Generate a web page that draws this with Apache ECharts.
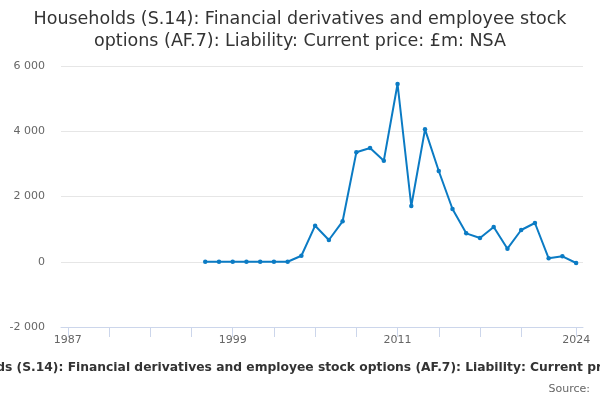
<!DOCTYPE html>
<html>
<head>
<meta charset="utf-8">
<script src="https://cdn.jsdelivr.net/npm/echarts@6/dist/echarts.min.js"></script>
<style>html,body{margin:0;padding:0;background:#fff}#c{width:600px;height:400px}</style>
</head>
<body>
<div id="c"></div>
<script>
var years = [];
for (var y = 1987; y <= 2024; y++) years.push(String(y));
var values = [null,null,null,null,null,null,null,null,null,null,
  0,0,0,0,0,0,0,185,1105,667,1240,3354,3487,3099,5448,1709,4058,2782,1617,871,728,1065,401,973,1188,105,166,-38];
var yTicks = [-2000, 0, 2000, 4000, 6000];
var tickYears = ['1987','1990','1993','1996','1999','2002','2005','2008','2011','2014','2017','2020','2024'];
var labelYears = ['1987','1999','2011','2024'];
var titleText = 'Households (S.14): Financial derivatives and employee stock\noptions (AF.7): Liability: Current price: £m: NSA';
var captionText = 'Households (S.14): Financial derivatives and employee stock options (AF.7): Liability: Current price: £m: NSA';

var chart = echarts.init(document.getElementById('c'), null, {renderer: 'canvas'});
chart.setOption({
  animation: false,
  title: {
    text: titleText,
    left: 'center',
    top: 3,
    textStyle: {fontFamily: 'DejaVu Sans', fontSize: 17.5, fontWeight: 'normal', color: '#333333', lineHeight: 22}
  },
  grid: {left: 61, right: 17, top: 66, bottom: 73},
  xAxis: {
    type: 'category',
    data: years,
    boundaryGap: true,
    axisLine: {show: true, onZero: false, lineStyle: {color: '#ccd6eb', width: 1}},
    axisTick: {
      show: true,
      alignWithLabel: true,
      length: 10,
      lineStyle: {color: '#ccd6eb', width: 1},
      interval: function (i, v) { return tickYears.indexOf(years[i]) >= 0; }
    },
    axisLabel: {
      interval: function (i, v) { return labelYears.indexOf(years[i]) >= 0; },
      color: '#666666', fontFamily: 'DejaVu Sans', fontSize: 11, margin: 8
    },
    splitLine: {show: false}
  },
  yAxis: {
    type: 'value',
    min: yTicks[0], max: yTicks[yTicks.length - 1], interval: 2000,
    axisLine: {show: false},
    axisTick: {show: false},
    axisLabel: {
      color: '#666666', fontFamily: 'DejaVu Sans', fontSize: 11, margin: 16,
      formatter: function (v) { return String(v).replace(/\B(?=(\d{3})+(?!\d))/g, ' '); }
    },
    splitLine: {lineStyle: {color: '#e6e6e6', width: 1}}
  },
  series: [{
    type: 'line',
    data: values,
    connectNulls: false,
    symbol: 'circle',
    symbolSize: 4.5,
    showSymbol: true,
    lineStyle: {color: '#0b7bc4', width: 2},
    itemStyle: {color: '#0b7bc4'}
  }],
  graphic: [
    {type: 'text', x: 311, y: 362, style: {text: captionText, align: 'center', fontFamily: 'DejaVu Sans', fontSize: 12.3, fontWeight: 'bold', fill: '#333333'}},
    {type: 'text', right: 10, top: 384, style: {text: 'Source:', fontFamily: 'DejaVu Sans', fontSize: 11, fill: '#666666'}}
  ]
});
</script>
</body>
</html>
